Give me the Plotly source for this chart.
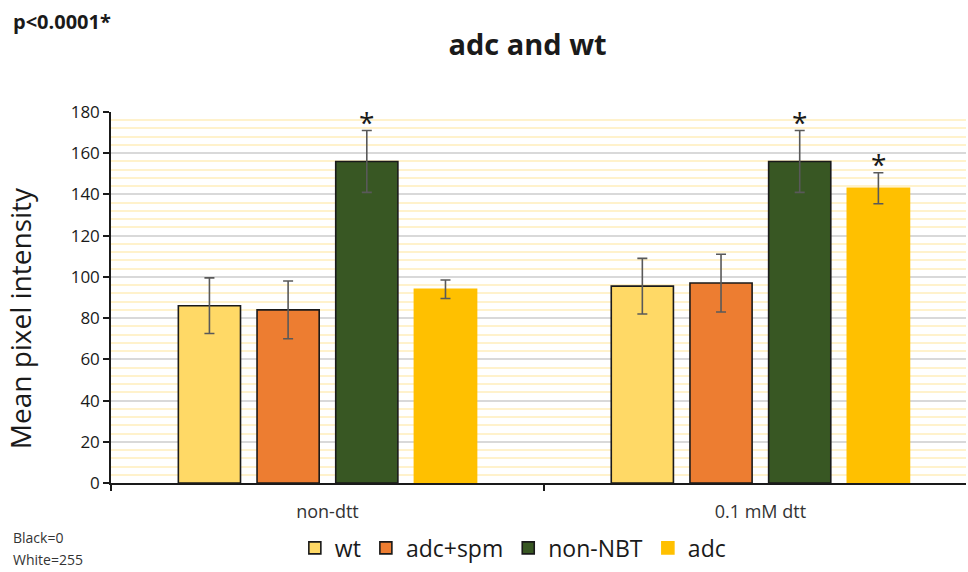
import plotly.graph_objects as go

# Treatment groups on the x axis
conditions = ["non-dtt", "0.1 mM dtt"]

# Mean pixel intensity per strain, and the standard deviations
series_names = ["wt", "adc+spm", "non-NBT", "adc"]
means = {
    "wt": [86, 95.5],
    "adc+spm": [84, 97],
    "non-NBT": [156, 156],
    "adc": [94, 143],
}
errors = {
    "wt": [13.5, 13.5],
    "adc+spm": [14, 14],
    "non-NBT": [15, 15],
    "adc": [4.5, 7.5],
}
# Significance marks (series, condition index)
significant = [("non-NBT", 0), ("non-NBT", 1), ("adc", 1)]

fills = {"wt": "#FFD966", "adc+spm": "#ED7D31", "non-NBT": "#385723", "adc": "#FFC000"}
outlines = {"wt": "#1a1a1a", "adc+spm": "#1a1a1a", "non-NBT": "#1a1a1a", "adc": "#FFC000"}

font_family = "Open Sans, Liberation Sans, sans-serif"

fig = go.Figure()
for name in series_names:
    fig.add_trace(go.Bar(
        name=name,
        x=conditions,
        y=means[name],
        marker=dict(color=fills[name], line=dict(color=outlines[name], width=1.6)),
        error_y=dict(type="data", array=errors[name], color="#595959",
                     thickness=1.6, width=5),
    ))

# Asterisks above the significant bars
n = len(series_names)
for name, ci in significant:
    si = series_names.index(name)
    top = means[name][ci] + errors[name][ci]
    fig.add_annotation(
        x=conditions[ci], y=top, xref="x", yref="y",
        text="*", showarrow=False, yanchor="bottom",
        xshift=(si - (n - 1) / 2) * 78.5, yshift=-12,
        font=dict(size=28, color="#1a1a1a", family=font_family),
    )

fig.add_annotation(x=-0.117, y=1.245, xref="paper", yref="paper",
                   text="<b>p<0.0001*</b>", showarrow=False,
                   xanchor="left", yanchor="middle",
                   font=dict(size=20, color="#1a1a1a", family=font_family))
fig.add_annotation(x=-0.117, y=-0.147, xref="paper", yref="paper",
                   text="Black=0", showarrow=False,
                   xanchor="left", yanchor="middle", align="left",
                   font=dict(size=14, color="#333333", family=font_family))
fig.add_annotation(x=-0.117, y=-0.207, xref="paper", yref="paper",
                   text="White=255", showarrow=False,
                   xanchor="left", yanchor="middle", align="left",
                   font=dict(size=14, color="#333333", family=font_family))
# Y axis title, placed by hand so it sits close to the page edge
fig.add_annotation(x=-0.106, y=0.445, xref="paper", yref="paper",
                   text="Mean pixel intensity", showarrow=False, textangle=-90,
                   xanchor="center", yanchor="middle",
                   font=dict(size=28, color="#1a1a1a", family=font_family))

fig.update_layout(
    width=968, height=572,
    margin=dict(l=111, r=2, t=112, b=89),
    paper_bgcolor="white", plot_bgcolor="white",
    title=dict(text="<b>adc and wt</b>", x=0.545, xanchor="center", y=0.922,
               yanchor="middle",
               font=dict(size=29, color="#1a1a1a", family=font_family)),
    barmode="group", bargap=0.273, bargroupgap=0.21,
    showlegend=True,
    legend=dict(orientation="h", x=0.47, xanchor="center", y=-0.175,
                yanchor="middle", font=dict(size=23, color="#1a1a1a", family=font_family),
                itemwidth=30, tracegroupgap=0),
    font=dict(family=font_family),
)

fig.update_yaxes(
    range=[0, 180], dtick=20, tick0=0,
    showline=True, linecolor="#1a1a1a", linewidth=1.5,
    ticks="outside", ticklen=6, tickcolor="#1a1a1a", tickwidth=1.5,
    tickfont=dict(size=17, color="#1a1a1a", family=font_family),
    showgrid=True, gridcolor="#D9D9D9", gridwidth=1.5,
    minor=dict(dtick=4, showgrid=True, gridcolor="#FFF2CC", gridwidth=1.5),
    zeroline=False,
)
fig.update_xaxes(
    range=[-0.5, 1.475],
    showline=True, linecolor="#1a1a1a", linewidth=1.5,
    ticks="outside", tickson="boundaries", ticklen=6, tickcolor="#1a1a1a",
    tickwidth=1.5, ticklabelstandoff=12,
    tickfont=dict(size=18, color="#333333", family=font_family),
    showgrid=False,
)

fig.write_html("out.html")
